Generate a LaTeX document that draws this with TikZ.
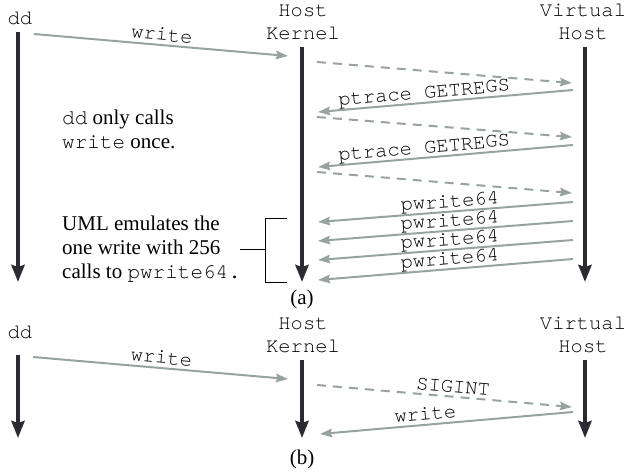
\documentclass[tikz,border=0pt]{standalone}
\usepackage{fontspec}
\setmainfont{Liberation Serif}
\setmonofont{texgyrecursor-regular.otf}
\usetikzlibrary{arrows.meta}

\definecolor{lifeclr}{RGB}{43,43,51}
\definecolor{msgclr}{RGB}{151,163,157}

\tikzset{
  lifeline/.style={draw=lifeclr, line width=4pt,
    -{Stealth[length=17pt, width=13pt, inset=2pt]}},
  msg/.style={draw=msgclr, line width=2pt,
    -{Stealth[length=12pt, width=8.5pt, inset=1.5pt]}},
  dmsg/.style={msg, dash pattern=on 9pt off 7pt},
  hdr/.style={font=\fontsize{20.5}{23}\selectfont\ttfamily, align=center, inner sep=0pt},
  lbl/.style={font=\fontsize{20.5}{23}\selectfont\ttfamily, sloped, anchor=base, inner sep=0pt, yshift=4.5pt},
  note/.style={font=\fontsize{21}{24}\selectfont, align=left, inner sep=0pt, anchor=north west},
  captxt/.style={font=\fontsize{21}{24}\selectfont, inner sep=0pt, anchor=base},
  brace/.style={draw=black, line width=1pt}
}

\begin{document}
\begin{tikzpicture}[x=1pt, y=-1pt]
\useasboundingbox (0,0) rectangle (626,473);

% ---------- (a) ----------
\node[hdr, anchor=base] (ddA) at (20,25) {dd};
\node[hdr, anchor=base] (hkA) at (303,40) {Host\\Kernel};
\node[hdr, anchor=base] (vhA) at (583,40) {Virtual\\Host};

\coordinate (ddAt) at (18,32);   \coordinate (ddAb) at (18,282);
\coordinate (hkAt) at (302,47);  \coordinate (hkAb) at (302,282);
\coordinate (vhAt) at (585,47);  \coordinate (vhAb) at (585,282);
\draw[lifeline] (ddAt) -- (ddAb);
\draw[lifeline] (hkAt) -- (hkAb);
\draw[lifeline] (vhAt) -- (vhAb);

% message end points
\coordinate (a0s) at (34,34);   \coordinate (a0e) at (288,56);
\coordinate (a1s) at (317,62);  \coordinate (a1e) at (572,83);
\coordinate (a2s) at (573,90);  \coordinate (a2e) at (318,112);
\coordinate (a3s) at (317,117); \coordinate (a3e) at (572,137);
\coordinate (a4s) at (573,145); \coordinate (a4e) at (318,167);
\coordinate (a5s) at (317,172); \coordinate (a5e) at (572,193);
\coordinate (a6s) at (573,202); \coordinate (a6e) at (318,222);
\coordinate (a7s) at (573,221); \coordinate (a7e) at (318,241);
\coordinate (a8s) at (573,240); \coordinate (a8e) at (318,260);
\coordinate (a9s) at (573,259); \coordinate (a9e) at (318,280);

\draw[msg]  (a0s) -- node[lbl, pos=0.5] (la0) {write} (a0e);
\draw[dmsg] (a1s) -- (a1e);
\draw[msg]  (a2s) -- node[lbl, pos=0.58] (la2) {ptrace GETREGS} (a2e);
\draw[dmsg] (a3s) -- (a3e);
\draw[msg]  (a4s) -- node[lbl, pos=0.58] (la4) {ptrace GETREGS} (a4e);
\draw[dmsg] (a5s) -- (a5e);
\draw[msg]  (a6s) -- node[lbl, pos=0.48] (la6) {pwrite64} (a6e);
\draw[msg]  (a7s) -- node[lbl, pos=0.48] (la7) {pwrite64} (a7e);
\draw[msg]  (a8s) -- node[lbl, pos=0.48] (la8) {pwrite64} (a8e);
\draw[msg]  (a9s) -- node[lbl, pos=0.48] (la9) {pwrite64} (a9e);

\node[note] (noteA) at (62,110) {\texttt{dd} only calls\\\texttt{write} once.};
\node[note] (noteB) at (62,216) {UML emulates the\\one write with 256\\calls to \texttt{pwrite64.}};

% bracket grouping the pwrite64 calls
\coordinate (bt) at (265,218); \coordinate (bb) at (265,282);
\coordinate (bm) at (265,249); \coordinate (btr) at (287,218);
\coordinate (bbr) at (287,282); \coordinate (bml) at (240,249);
\draw[brace] (btr) -- (bt) -- (bb) -- (bbr);
\draw[brace] (bml) -- (bm);

\node[captxt] (capA) at (302,304) {(a)};

% ---------- (b) ----------
\node[hdr, anchor=base] (ddB) at (20,338) {dd};
\node[hdr, anchor=base] (hkB) at (303,352) {Host\\Kernel};
\node[hdr, anchor=base] (vhB) at (583,352) {Virtual\\Host};

\coordinate (ddBt) at (18,355);  \coordinate (ddBb) at (18,438);
\coordinate (hkBt) at (302,360); \coordinate (hkBb) at (302,438);
\coordinate (vhBt) at (585,360); \coordinate (vhBb) at (585,438);
\draw[lifeline] (ddBt) -- (ddBb);
\draw[lifeline] (hkBt) -- (hkBb);
\draw[lifeline] (vhBt) -- (vhBb);

\coordinate (b0s) at (33,357);  \coordinate (b0e) at (288,379);
\coordinate (b1s) at (317,385); \coordinate (b1e) at (572,407);
\coordinate (b2s) at (573,412); \coordinate (b2e) at (320,434);

\draw[msg]  (b0s) -- node[lbl, pos=0.5] (lb0) {write} (b0e);
\draw[dmsg] (b1s) -- node[lbl, pos=0.53] (lb1) {SIGINT} (b1e);
\draw[msg]  (b2s) -- node[lbl, pos=0.58] (lb2) {write} (b2e);

\node[captxt] (capB) at (302,464) {(b)};
\end{tikzpicture}
\end{document}
